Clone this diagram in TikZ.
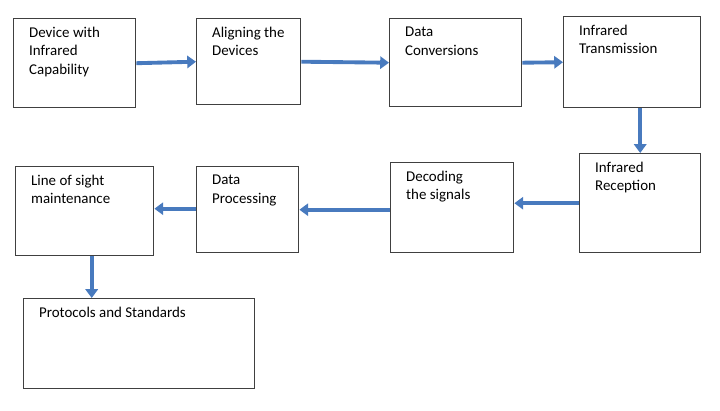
\documentclass[tikz,border=0pt]{standalone}
\usepackage{fontspec}
\setmainfont{Carlito}
\usetikzlibrary{arrows.meta}
\definecolor{flowblue}{RGB}{72,122,190}
\begin{document}
\begin{tikzpicture}[x=0.02cm, y=-0.02cm]
\tikzset{ box/.style={draw=black!75, thick, anchor=north west, inner sep=0pt},
  txt/.style={anchor=north west, align=left, inner sep=0pt, xshift=9pt, yshift=-5pt,
    font=\fontsize{8.5}{10.5}\selectfont},
  flow/.style={-{Triangle[length=5pt,width=7pt]}, flowblue, line width=2.2pt} }
\useasboundingbox (0,0) rectangle (720,410);

\node [box, minimum width=122*0.02cm, minimum height=89*0.02cm,
  label={[txt]north west:Device with\\Infrared\\Capability}] (B1) at (13,18) {};
\node [box, minimum width=104*0.02cm, minimum height=86*0.02cm,
  label={[txt]north west:Aligning the\\Devices}] (B2) at (196,18) {};
\node [box, minimum width=132*0.02cm, minimum height=88*0.02cm,
  label={[txt]north west:Data\\Conversions}] (B3) at (389,18) {};
\node [box, minimum width=137*0.02cm, minimum height=91*0.02cm,
  label={[txt]north west:Infrared\\Transmission}] (B4) at (563,16) {};
\node [box, minimum width=121*0.02cm, minimum height=99*0.02cm,
  label={[txt]north west:Infrared\\Reception}] (B5) at (579,153) {};
\node [box, minimum width=123*0.02cm, minimum height=90*0.02cm,
  label={[txt]north west:Decoding\\the signals}] (B6) at (390,162) {};
\node [box, minimum width=102*0.02cm, minimum height=86*0.02cm,
  label={[txt]north west:Data\\Processing}] (B7) at (196,166) {};
\node [box, minimum width=138*0.02cm, minimum height=89*0.02cm,
  label={[txt]north west:Line of sight\\maintenance}] (B8) at (15,166) {};
\node [box, minimum width=231*0.02cm, minimum height=90*0.02cm,
  label={[txt]north west:Protocols and Standards}] (B9) at (23,298) {};

\draw [flow] (B1.east) -- (B2.west);
\draw [flow] (B2.east) -- (B3.west);
\draw [flow] (B3.east) -- (B4.west);
\draw [flow] (B4.south) ++(8,0) coordinate (T4) -- (T4 |- B5.north);
\draw [flow] (B5.west) -- (B5.west -| B6.east);
\draw [flow] (B6.west) ++(0,2) coordinate (T6) -- (T6 -| B7.east);
\draw [flow] (B7.west) ++(0,-1) coordinate (T7) -- (T7 -| B8.east);
\draw [flow] (B8.south) ++(7,0) coordinate (T8) -- (T8 |- B9.north);
\end{tikzpicture}
\end{document}
